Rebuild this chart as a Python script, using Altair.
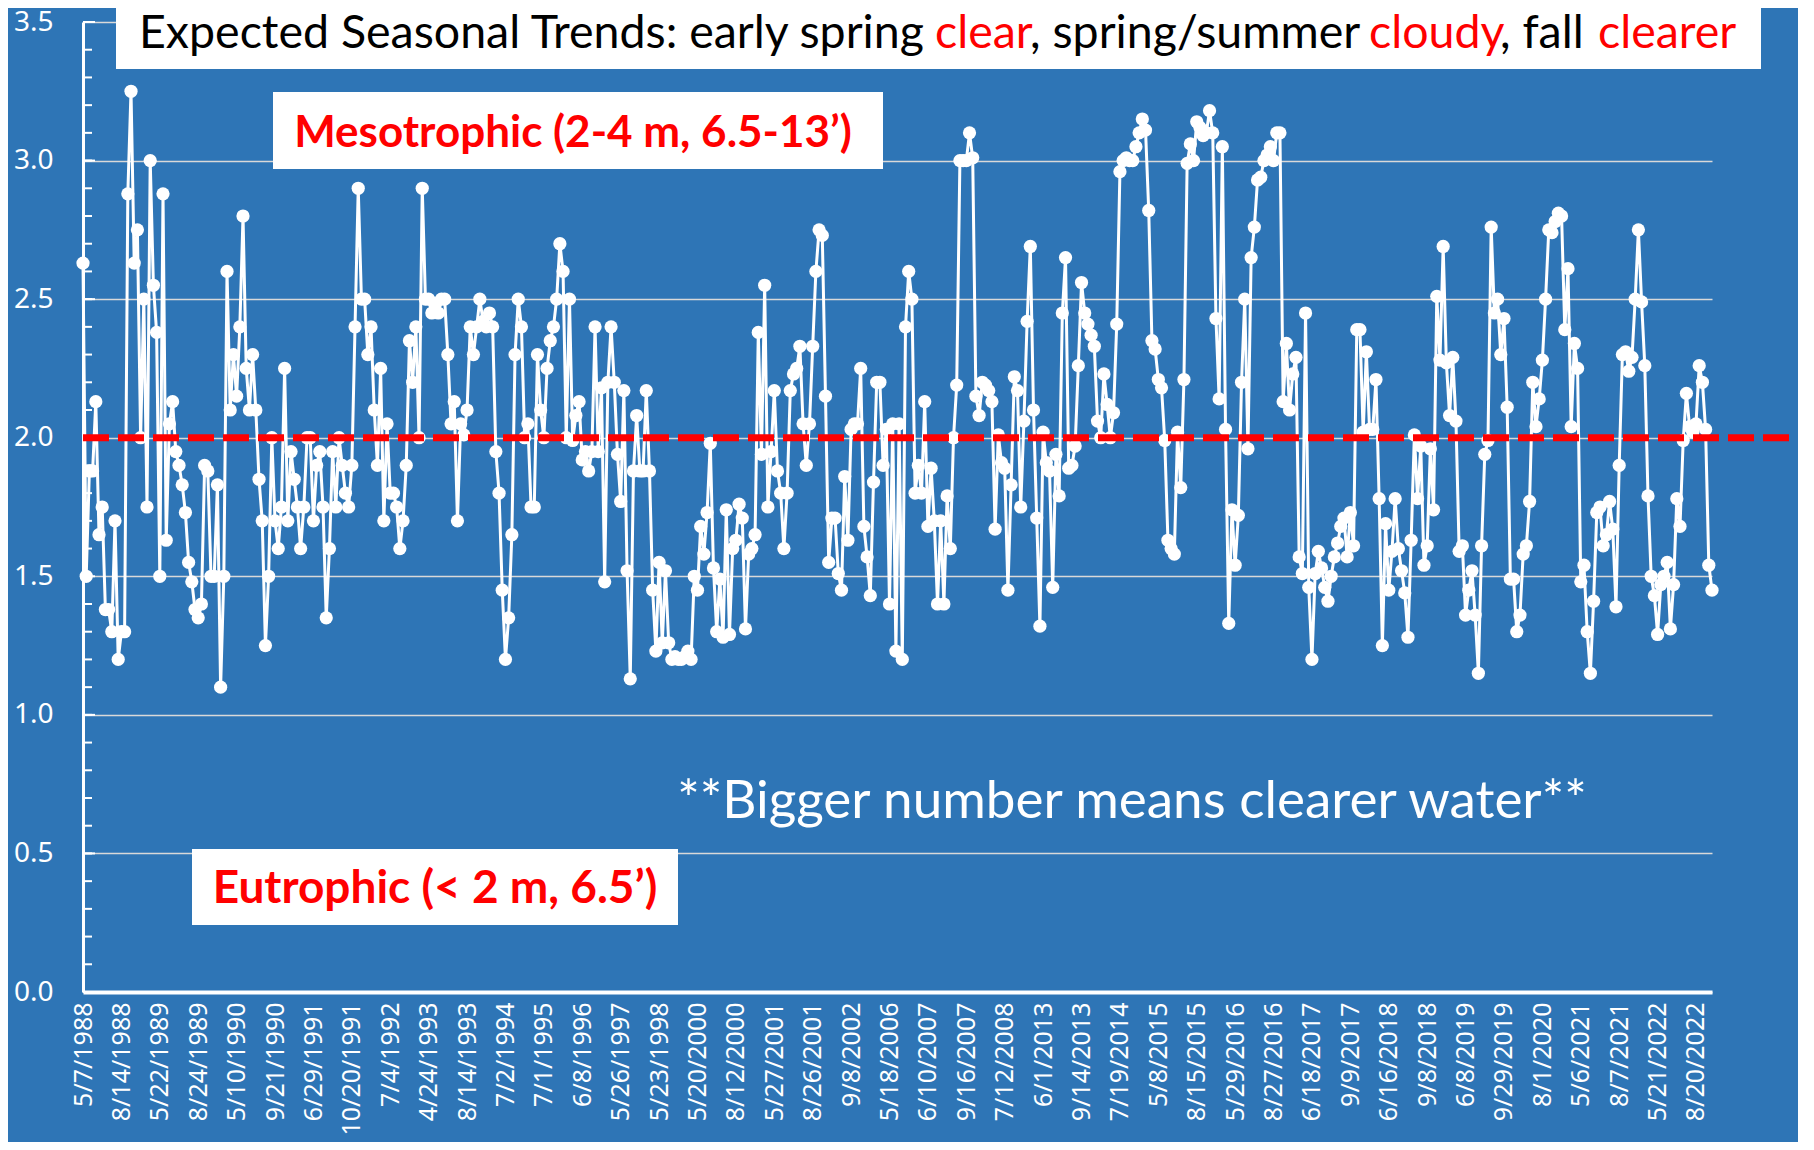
import altair as alt
import pandas as pd

# ---- data (Secchi depth, m) ----
clarity_1988_1991 = [2.63,1.5,1.88,1.88,2.13,1.65,1.75,1.38,1.38,1.3,
 1.7,1.2,1.3,1.3,2.88,3.25,2.63,2.75,2.0,2.5,
 1.75,3.0,2.55,2.38,1.5,2.88,1.63,2.05,2.13,1.95,
 1.9,1.83,1.73,1.55,1.48,1.38,1.35,1.4,1.9,1.88,
 1.5,1.5,1.83,1.1,1.5,2.6,2.1,2.3,2.15,2.4,
 2.8,2.25,2.1,2.3,2.1,1.85,1.7,1.25,1.5,2.0,
 1.7,1.6,1.75,2.25,1.7,1.95,1.85,1.75,1.6,1.75,
 2.0,2.0,1.7,1.9,1.95,1.75,1.35,1.6,1.95,1.75,
 2.0,1.9,1.8,1.75]
clarity_1991_1997 = [1.9,2.4,2.9,2.5,2.5,2.3,2.4,2.1,1.9,2.25,1.7,
 2.05,1.8,1.8,1.75,1.6,1.7,1.9,2.35,2.2,2.4,
 2.0,2.9,2.5,2.5,2.45,2.48,2.45,2.5,2.5,2.3,
 2.05,2.13,1.7,2.05,2.01,2.1,2.4,2.3,2.4,2.5,
 2.42,2.4,2.45,2.4,1.95,1.8,1.45,1.2,1.35,1.65,
 2.3,2.5,2.4,2.0,2.05,1.75,1.75,2.3,2.1,2.0,
 2.25,2.35,2.4,2.5,2.7,2.6,2.0,2.5,1.99,2.08,
 2.13,1.92,1.95,1.88,1.95,2.4,1.95,2.18,1.48,2.2,
 2.4,2.2,1.94,1.77]
clarity_1997_2006 = [2.17,1.52,1.13,1.88,2.08,1.88,1.88,2.17,1.88,1.45,
 1.23,1.55,1.26,1.52,1.26,1.2,1.21,1.2,1.2,1.21,
 1.23,1.2,1.5,1.45,1.68,1.58,1.73,1.98,1.53,1.3,
 1.49,1.28,1.74,1.29,1.6,1.63,1.76,1.71,1.31,1.58,
 1.6,1.65,2.38,1.94,2.55,1.75,1.95,2.17,1.88,1.8,
 1.6,1.8,2.17,2.23,2.25,2.33,2.05,1.9,2.05,2.33,
 2.6,2.75,2.73,2.15,1.55,1.71,1.71,1.51,1.45,1.86,
 1.63,2.03,2.05,2.05,2.25,1.68,1.57,1.43,1.84,2.2,
 2.2,1.9,2.03,1.4]
clarity_2006_2015 = [2.05,1.23,2.05,1.2,2.4,2.6,2.5,1.8,1.9,1.8,
 2.13,1.68,1.89,1.7,1.4,1.7,1.4,1.79,1.6,2.0,
 2.19,3.0,3.0,3.0,3.1,3.01,2.15,2.08,2.2,
 2.19,2.17,2.13,1.67,2.01,1.91,1.89,1.45,1.83,
 2.22,2.17,1.75,2.06,2.42,2.69,2.1,1.71,1.32,2.02,
 1.91,1.88,1.46,1.94,1.79,2.45,2.65,1.89,1.9,
 1.97,2.26,2.56,2.45,2.41,2.37,2.33,2.06,2.0,
 2.23,2.12,2.0,2.09,2.41,2.96,3.0,3.01,3.0,3.0,
 3.05,3.1,3.15,3.11,2.82,2.35]
clarity_2015_2019 = [2.32,2.21,2.18,1.99,1.63,1.6,1.58,2.02,1.82,2.21,
 2.99,3.06,3.0,3.14,3.12,3.09,3.1,3.18,3.1,2.43,
 2.14,3.05,2.03,1.33,1.74,1.54,1.72,2.2,2.5,1.96,
 2.65,2.76,2.93,2.94,3.0,3.02,3.05,3.0,3.1,3.1,
 2.13,2.34,2.1,2.23,2.29,1.57,1.51,2.45,1.46,1.2,
 1.51,1.59,1.53,1.46,1.41,1.5,1.57,1.62,1.68,1.71,
 1.57,1.73,1.61,2.39,2.39,2.02,2.31,2.03,2.03,2.21,
 1.78,1.25,1.69,1.45,1.59,1.78,1.6,1.52,1.44,1.28,
 1.63,2.01,1.78,1.97,1.54,1.61,1.96,1.74,2.51,2.28]
clarity_2019_2022 = [2.69,2.27,2.08,2.29,2.06,1.59,1.61,1.36,1.45,
 1.52,1.36,1.15,1.61,1.94,1.99,2.76,2.45,2.5,2.3,
 2.43,2.11,1.49,1.49,1.3,1.36,1.58,1.61,1.77,2.2,
 2.04,2.14,2.28,2.5,2.75,2.74,2.78,2.81,2.8,2.39,
 2.61,2.04,2.34,2.25,1.48,1.54,1.3,1.15,1.41,1.73,
 1.75,1.61,1.65,1.77,1.67,1.39,1.9,2.3,2.31,
 2.24,2.29,2.5,2.75,2.49,2.26,1.79,1.5,1.43,1.29,
 1.47,1.5,1.55,1.31,1.47,1.78,1.68,1.99,2.16,2.04,
 2.02,2.05,2.26,2.2,2.03,1.54,1.45]

tick_dates = ["5/7/1988","8/14/1988","5/22/1989","8/24/1989","5/10/1990","9/21/1990",
 "6/29/1991","10/20/1991","7/4/1992","4/24/1993","8/14/1993","7/2/1994","7/1/1995",
 "6/8/1996","5/26/1997","5/23/1998","5/20/2000","8/12/2000","5/27/2001","8/26/2001",
 "9/8/2002","5/18/2006","6/10/2007","9/16/2007","7/12/2008","6/1/2013","9/14/2013",
 "7/19/2014","5/8/2015","8/15/2015","5/29/2016","8/27/2016","6/18/2017","9/9/2017",
 "6/16/2018","9/8/2018","6/8/2019","9/29/2019","8/1/2020","5/6/2021","8/7/2021",
 "5/21/2022","8/20/2022"]
label_every = 12
y_major = [0.0, 0.5, 1.0, 1.5, 2.0, 2.5, 3.0, 3.5]
y_minor = [round(k / 10, 1) for k in range(36)]
threshold = [2.0]

values = (clarity_1988_1991 + clarity_1991_1997 + clarity_1997_2006 +
          clarity_2006_2015 + clarity_2015_2019 + clarity_2019_2022)
N = len(values)
df = pd.DataFrame({"i": list(range(N)), "v": values})

BG = "#2E75B6"
FONT = "Lato"
AXFONT = "Noto Sans"
W, H = 1629, 970

label_js = "[" + ",".join("'" + d + "'" for d in tick_dates) + "]"
x_scale = alt.Scale(domain=[0, N - 1], nice=False, zero=False)
y_scale = alt.Scale(domain=[0, 3.5], nice=False)

x_axis = alt.Axis(values=[k * label_every for k in range(len(tick_dates))],
                  labelExpr=label_js + "[round(datum.value/" + str(label_every) + ")]",
                  labelAngle=270, labelAlign="right", labelBaseline="middle",
                  labelPadding=10, labelFont=AXFONT, labelFontSize=25,
                  labelColor="white", labelOverlap=False, labelFlush=False,
                  ticks=False, grid=False, domainColor="white", domainWidth=4,
                  title=None)
y_axis = alt.Axis(values=y_major, format=".1f", grid=True, gridColor="#D9D9D9",
                  gridWidth=1.5, ticks=False, domainColor="white", domainWidth=3,
                  labelPadding=30, labelFont=AXFONT, labelFontSize=28,
                  labelColor="white", title=None)

base = alt.Chart(df).encode(
    x=alt.X("i:Q", scale=x_scale, axis=x_axis),
    y=alt.Y("v:Q", scale=y_scale, axis=y_axis),
)
line = base.mark_line(color="white", strokeWidth=3)
pts = base.mark_circle(size=175, color="white", opacity=1)

minor = alt.Chart(pd.DataFrame({"v": y_minor})).mark_rule(color="white", strokeWidth=2).encode(
    y=alt.Y("v:Q", scale=y_scale), x=alt.value(0), x2=alt.value(9))
major = alt.Chart(pd.DataFrame({"v": y_major})).mark_rule(color="white", strokeWidth=2).encode(
    y=alt.Y("v:Q", scale=y_scale), x=alt.value(0), x2=alt.value(12))

redline = alt.Chart(pd.DataFrame({"v": threshold})).mark_rule(
    color="#FF0000", strokeWidth=7, strokeDash=[26, 9]).encode(
    y=alt.Y("v:Q", scale=y_scale), x=alt.value(0), x2=alt.value(1716))

one = pd.DataFrame({"k": [0]})


def box(x1, x2, y1, y2):
    return alt.Chart(one).mark_rect(color="white").encode(
        x=alt.value(x1), x2=alt.value(x2), y=alt.value(y1), y2=alt.value(y2))


def txt(s, x, y, color, size, weight="normal", align="left"):
    return alt.Chart(one).mark_text(text=s, align=align, baseline="alphabetic",
                                    font=FONT, fontSize=size, fontWeight=weight,
                                    color=color).encode(x=alt.value(x), y=alt.value(y))


TS = 46.5
TY = 26
annotations = [
    box(33, 1678, -22, 47),
    txt("Expected Seasonal Trends: early spring", 56, TY, "black", TS),
    txt("clear", 852, TY, "#FF0000", TS),
    txt(", spring/summer", 947, TY, "black", TS),
    txt("cloudy", 1286, TY, "#FF0000", TS),
    txt(", fall", 1417, TY, "black", TS),
    txt("clearer", 1515, TY, "#FF0000", TS),
    box(190, 800, 70, 147),
    txt("Mesotrophic (2-4 m, 6.5-13\u2019)", 490, 125, "#FF0000", 44, "bold", "center"),
    box(109, 595, 827, 903),
    txt("Eutrophic (< 2 m, 6.5\u2019)", 352, 881, "#FF0000", 46, "bold", "center"),
    txt("**Bigger number means clearer water**", 1049, 796, "white", 53, "normal", "center"),
]

chart = alt.layer(line, pts, minor, major, redline, *annotations).properties(
    width=W, height=H,
    autosize=alt.AutoSizeParams(type="none"),
    padding={"left": 75, "top": 14, "right": 86, "bottom": 150},
    background=BG,
).configure_view(stroke="transparent")

chart.save("out.html", embed_options={"renderer": "svg", "actions": False})
